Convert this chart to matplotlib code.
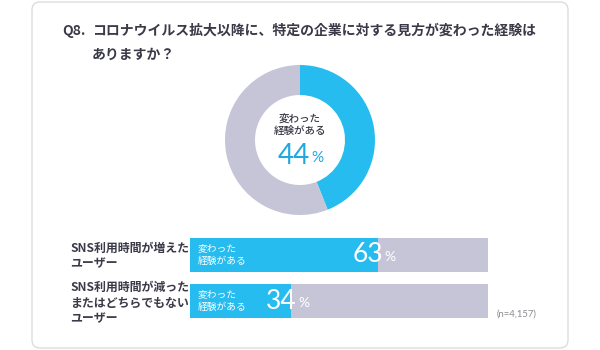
import matplotlib.pyplot as plt
from matplotlib.patches import FancyBboxPatch

plt.rcParams['font.family'] = ['Noto Sans CJK JP', 'DejaVu Sans']

# Data
question = "Q8."
title_lines = ["コロナウイルス拡大以降に、特定の企業に対する見方が変わった経験は", "ありますか？"]
overall_pct = 44
groups = ["SNS利用時間が増えた\nユーザー", "SNS利用時間が減った\nまたはどちらでもない\nユーザー"]
group_pcts = [63, 34]
inner_label = "変わった\n経験がある"
n_note = "(n=4,157)"

BLUE = "#27BCF0"
GRAY = "#C6C5D8"
DARK = "#3A3A48"

fig = plt.figure(figsize=(6, 3.5), dpi=100)

# base axes in pixel coordinates
ax0 = fig.add_axes([0, 0, 1, 1])
ax0.set_xlim(0, 600)
ax0.set_ylim(350, 0)
ax0.axis("off")

card = FancyBboxPatch((32, 2), 536, 346, boxstyle="round,pad=0,rounding_size=8",
                      facecolor="white", edgecolor="#D9D9DE", linewidth=0.9)
ax0.add_patch(card)

ax0.text(62, 31, question, fontsize=10, fontweight="bold", color=DARK, va="center")
ax0.text(92, 31, title_lines[0], fontsize=10, fontweight="bold", color=DARK, va="center")
ax0.text(92, 55, title_lines[1], fontsize=10, fontweight="bold", color=DARK, va="center")

# donut
axd = fig.add_axes([225 / 600, (350 - 215) / 350, 150 / 600, 150 / 350])
axd.pie([overall_pct, 100 - overall_pct], colors=[BLUE, GRAY], startangle=90,
        counterclock=False, wedgeprops=dict(width=0.4, edgecolor="none"))
axd.set_xlim(-1, 1)
axd.set_ylim(-1, 1)
axd.set_aspect("equal")
axd.axis("off")

ax0.text(300, 125, inner_label, fontsize=7.6, color=DARK, ha="center", va="center",
         linespacing=1.25, fontweight="medium")
ax0.text(310, 156, str(overall_pct), fontsize=20, color="#1DA8E2", ha="right", va="center",
         family=["Lato", "DejaVu Sans"])
ax0.text(311, 158, "%", fontsize=11, color="#1DA8E2", ha="left", va="center",
         family=["Lato", "DejaVu Sans"])

# bars
axb = fig.add_axes([190 / 600, (350 - 318) / 350, 298 / 600, 80 / 350])
ypos = list(range(len(group_pcts)))
h = 34 / 46.5
axb.barh(ypos, [100] * len(ypos), height=h, color=GRAY)
axb.barh(ypos, group_pcts, height=h, color=BLUE)
axb.set_xlim(0, 100)
axb.set_ylim(1 + h / 2, -h / 2)
axb.axis("off")

for y, p in zip(ypos, group_pcts):
    axb.text(2.7, y, inner_label, fontsize=7, color="white", va="center", linespacing=1.2)
    axb.text(p + 1.7, y, str(p), fontsize=19, color="white", ha="right", va="center",
             family=["Lato", "DejaVu Sans"])
    axb.text(p + 2.3, y + 0.05, "%", fontsize=10, color="white", ha="left", va="center",
             family=["Lato", "DejaVu Sans"])

label_y = [256, 303]
for ly, g in zip(label_y, groups):
    ax0.text(70, ly, g, fontsize=8.6, fontweight="bold", color=DARK, va="center",
             linespacing=1.25)

ax0.text(497, 314, n_note, fontsize=6.8, color="#8A8A90", va="center",
         family=["Lato", "DejaVu Sans"])

fig.savefig("out.png", dpi=100, facecolor="white")
